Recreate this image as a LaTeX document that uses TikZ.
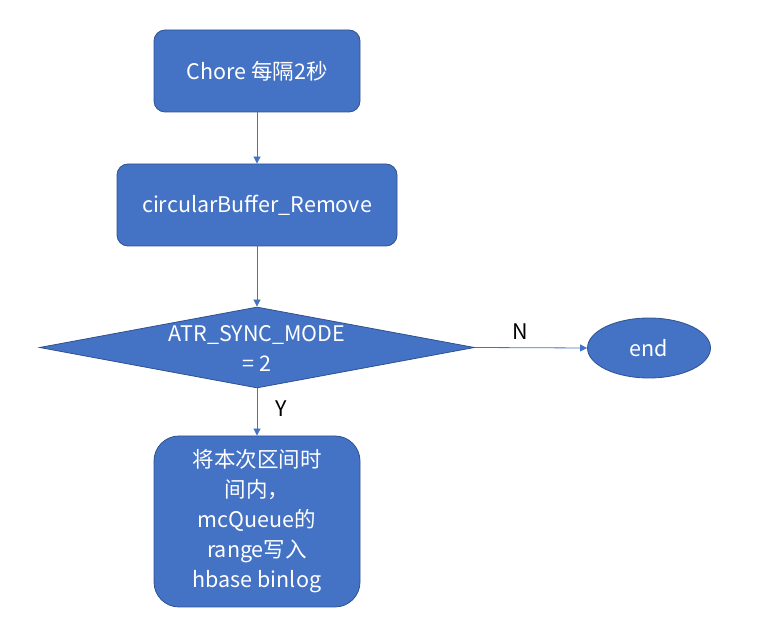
\documentclass[tikz,border=0pt]{standalone}
\usepackage{fontspec}
\newfontfamily\cjk{Noto Sans CJK SC}
\usetikzlibrary{shapes.geometric,arrows.meta}
\definecolor{boxfill}{HTML}{4472C4}
\definecolor{boxline}{HTML}{2F528F}
\begin{document}
\begin{tikzpicture}[x=1pt,y=1pt,
  every node/.style={font=\cjk\fontsize{21.5}{30}\selectfont},
  procbox/.style={draw=boxline,line width=0.8pt,fill=boxfill,text=white,rounded corners=11pt,align=center,inner sep=0pt},
  conn/.style={draw=boxfill,line width=0.8pt,-{Triangle[length=7pt,width=7pt]}},
  lbl/.style={text=black}]
\useasboundingbox (0,0) rectangle (769,624);
\node[procbox,minimum width=206pt,minimum height=82pt] (chore) at (257,553) {Chore 每隔2秒};
\node[procbox,minimum width=280pt,minimum height=82pt] (remove) at (257,419) {circularBuffer\_Remove};
\node[draw=boxline,line width=0.8pt,fill=boxfill,text=white,diamond,aspect=5.37,minimum width=435pt,minimum height=81pt,inner sep=0pt,align=center] (mode) at (257,276.5) {};
\node[text=white,align=center] (modetext) at (257,276) {ATR\_SYNC\_MODE\\= 2};
\node[draw=boxline,line width=0.8pt,fill=boxfill,text=white,ellipse,minimum width=123pt,minimum height=60pt,inner sep=0pt] (end) at (649,276) {end};
\node[procbox,rounded corners=25pt,minimum width=206pt,minimum height=171pt] (write) at (257,102.5) {将本次区间时\\间内，\\mcQueue的\\range写入\\hbase binlog};
\draw[conn] (chore.south) -- (remove.north);
\draw[conn] (remove.south) -- (mode.north);
\draw[conn] (mode.east) -- node[lbl,above=4pt,pos=0.4] {N} (end.west);
\draw[conn] (mode.south) -- node[lbl,right=15pt,pos=0.42] {Y} (write.north);
\end{tikzpicture}
\end{document}
